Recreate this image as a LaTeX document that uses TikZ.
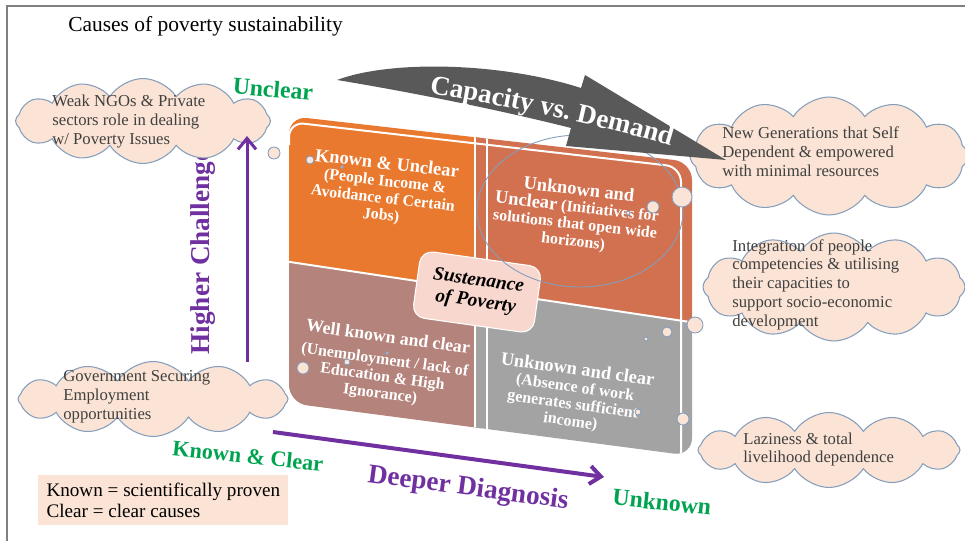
\documentclass[tikz,border=0pt]{standalone}
\usepackage{fontspec}
\setmainfont{Liberation Serif}
\usetikzlibrary{shapes,arrows.meta,positioning,decorations.text}
\definecolor{tlorange}{RGB}{233,121,46}
\definecolor{trterra}{RGB}{209,113,80}
\definecolor{blbrown}{RGB}{180,131,123}
\definecolor{brgray}{RGB}{163,163,163}
\definecolor{centerpink}{RGB}{248,215,206}
\definecolor{cloudfill}{RGB}{251,228,213}
\definecolor{cloudline}{RGB}{132,158,188}
\definecolor{cloudink}{RGB}{64,64,64}
\definecolor{axisgreen}{RGB}{0,163,80}
\definecolor{axispurple}{RGB}{112,48,160}
\definecolor{capgray}{RGB}{89,89,89}
\definecolor{framegray}{RGB}{128,128,128}
\newcommand{\qheadfont}{\fontsize{10.5}{10}\selectfont\bfseries}
\newcommand{\qsubfont}{\fontsize{9.1}{9.7}\selectfont\bfseries}
\newcommand{\cloudfont}{\fontsize{9.5}{10.7}\selectfont}
\newcommand{\capfont}{\fontsize{15.5}{16}\selectfont\bfseries\color{white}}

\begin{document}
\begin{tikzpicture}[
    x=0.02cm, y=-0.02cm,
    cloudbox/.style={cloud, cloud puffs=12, cloud puff arc=115, cloud ignores aspect, draw=cloudline, fill=cloudfill, line width=0.6pt, inner sep=0pt},
    cloudtext/.style={anchor=west, inner sep=0pt, align=left, text=cloudink, font=\cloudfont},
    quadtext/.style={text=white, align=center, inner sep=0pt, font=\qsubfont},
    centerbox/.style={fill=centerpink, draw=white, line width=0.6pt, rounded corners=0.25cm, minimum width=2.44cm, minimum height=1.34cm, align=center, font=\fontsize{11}{12}\selectfont\bfseries\itshape},
    axislabel/.style={text=axisgreen, font=\fontsize{13.5}{14}\selectfont\bfseries, inner sep=0pt},
    diaglabel/.style={text=axispurple, font=\fontsize{15.5}{16}\selectfont\bfseries, inner sep=0pt},
    axisarrow/.style={draw=axispurple, -{Straight Barb[length=0.22cm,width=0.36cm]}},
    bubble/.style={draw=cloudline, fill=cloudfill, line width=0.5pt},
    divider/.style={draw=white, line width=0.04cm},
    legendbox/.style={fill=cloudfill, minimum width=5cm, minimum height=1cm, align=left, font=\fontsize{10.9}{12.5}\selectfont}
]
\useasboundingbox (0,0) rectangle (965,541);

% frame and title
\draw[draw=framegray, line width=0.03cm] (7,541) -- (7,6) -- (965,6);
\node[anchor=west, inner sep=0pt, font=\fontsize{12.2}{13}\selectfont] (title) at (68,26) {Causes of poverty sustainability};

% the four quadrants
\begin{scope}
  \clip[rounded corners=0.36cm] (289,116) -- (692,162) -- (692,456) -- (289,403) -- cycle;
  \fill[tlorange] (280,100) -- (481,100) -- (481,290.6) -- (280,260.5) -- cycle;
  \fill[trterra] (475,100) -- (700,100) -- (700,323.5) -- (475,289.7) -- cycle;
  \fill[blbrown] (280,260.5) -- (481,290.6) -- (481,470) -- (280,470) -- cycle;
  \fill[brgray] (475,289.7) -- (700,323.5) -- (700,470) -- (475,470) -- cycle;
  \draw[divider] (280,260.5) -- (700,323.5);
  \draw[divider] (475,100) -- (475,470);
  \draw[divider] (487,100) -- (487,470);
  \draw[divider, rounded corners=0.3cm] (289,145) -- (289,122) -- (681,167) -- (681,470);
\end{scope}

\node[quadtext, rotate=-6.5] (tltext) at (384,190) {{\qheadfont Known \& Unclear}\\(People Income \&\\Avoidance of Certain\\Jobs)};
\node[quadtext, rotate=-6.5] (trtext) at (576,216) {{\qheadfont Unknown and}\\{\qheadfont Unclear} (Initiatives for\\solutions that open wide\\horizons)};
\node[quadtext, rotate=-8] (bltext) at (384,366) {{\fontsize{10.1}{10}\selectfont Well known and clear}\\[3pt](Unemployment / lack of\\Education \& High\\Ignorance)};
\node[quadtext, rotate=-8] (brtext) at (574,396) {{\qheadfont Unknown and clear}\\(Absence of work\\generates sufficient\\income)};

\node[centerbox, rotate=-8] (sustenance) at (477,292) {Sustenance\\of Poverty};

\draw[draw=cloudline, line width=0.5pt] (580,211) ellipse [x radius=103, y radius=76];

% axes
\coordinate (vlow) at (247,362);
\coordinate (vhigh) at (247,136);
\coordinate (hleft) at (273,432);
\coordinate (hright) at (604,477);
\draw[axisarrow, line width=0.08cm] (hleft) -- (hright);

\node[diaglabel, rotate=90] (higher) at (203,252) {Higher Challenge};
\node[diaglabel, rotate=-7.5] (deeper) at (468,489) {Deeper Diagnosis};
\node[axislabel, rotate=-5] (unclear) at (273,89) {Unclear};
\node[axislabel, rotate=-6, font=\fontsize{12.6}{13}\selectfont\bfseries] (knownclear) at (248,456) {Known \& Clear};
\node[axislabel, rotate=-6] (unknown) at (662,502) {Unknown};

% clouds
\node[cloudbox, minimum width=5.1cm, minimum height=1.7cm] (ngocloud) at (143,121) {};
\node[cloudtext] (ngotext) at (52,121.5) {Weak NGOs \& Private\\sectors role in dealing\\w/ Poverty Issues};
\node[cloudbox, minimum width=5.56cm, minimum height=2.36cm] (gencloud) at (829,156) {};
\node[cloudtext] (gentext) at (722,152) {New Generations that Self\\Dependent \& empowered\\with minimal resources};
\node[cloudbox, minimum width=5.24cm, minimum height=2.16cm] (intcloud) at (834,287) {};
\node[cloudtext] (inttext) at (732,284.5) {Integration of people\\competencies \& utilising\\their capacities to\\support socio-economic\\development};
\node[cloudbox, minimum width=5.4cm, minimum height=1.5cm] (govcloud) at (153,399) {};
\node[cloudtext] (govtext) at (63,397) {Government Securing\\Employment\\opportunities};
\node[cloudbox, minimum width=5.24cm, minimum height=1.5cm] (lazcloud) at (829,450) {};
\node[cloudtext] (laztext) at (743,449.5) {Laziness \& total\\livelihood dependence};

\draw[axisarrow, line width=0.06cm] (vlow) -- (vhigh);

% capacity vs demand arrow
\fill[capgray] (337,80) .. controls (390,60) and (500,62) .. (581,88) -- (585,75) -- (726,160) -- (566,146) -- (571,128) .. controls (500,110) and (410,92) .. (337,80) -- cycle;
\path[decorate, decoration={text along path, text align=center, text={|\capfont|Capacity vs. Demand}}] (420,92) .. controls (480,101) and (600,124) .. (680,149);

% thought bubbles
\foreach \bx/\by/\br in {274/153/6, 310/160/4, 342/167/1.5, 653/207/6, 628/213/2, 682/197/10, 695/325/8, 667/332/5, 646/339/2, 683/419/6, 638/412/3, 303/368/6, 347/362/3, 387/353/1.5}
  \draw[bubble] (\bx,\by) circle [radius=\br];

% legend
\node[legendbox, anchor=north west] (legend) at (38,475) {Known = scientifically proven\\Clear = clear causes};

\end{tikzpicture}
\end{document}
